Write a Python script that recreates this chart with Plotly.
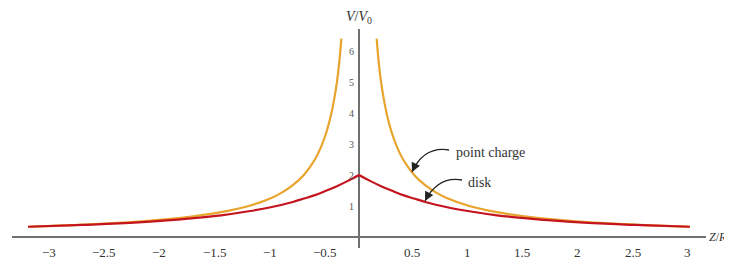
import plotly.graph_objects as go

# ---- data (right half; the curves are mirror-symmetric about Z=0) ----
z_point = [0.16, 0.18, 0.20, 0.22, 0.25, 0.30, 0.35, 0.40, 0.50, 0.60, 0.70, 0.80, 1.00, 1.25, 1.50, 2.00, 2.50, 3.00]
v_point = [6.40, 5.60, 5.00, 4.55, 4.00, 3.33, 2.86, 2.50, 2.00, 1.67, 1.43, 1.25, 1.00, 0.80, 0.67, 0.50, 0.40, 0.33]

z_disk = [0.00, 0.10, 0.20, 0.30, 0.40, 0.50, 0.60, 0.80, 1.00, 1.25, 1.50, 2.00, 2.50, 3.00]
v_disk = [2.00, 1.81, 1.64, 1.49, 1.35, 1.24, 1.13, 0.96, 0.83, 0.70, 0.61, 0.47, 0.39, 0.33]

x_tick_vals = [-3, -2.5, -2, -1.5, -1, -0.5, 0.5, 1, 1.5, 2, 2.5, 3]
x_tick_text = ["−3", "−2.5", "−2", "−1.5", "−1", "−0.5", "0.5", "1", "1.5", "2", "2.5", "3"]
y_tick_vals = [1, 2, 3, 4, 5, 6]
y_tick_text = ["1", "2", "3", "4", "5", "6"]

ORANGE = "#E8A42C"
RED = "#C4141E"
AXIS = "#707070"
FONT = "Liberation Serif"

# ---- layout geometry (window pixels); the page body adds an 8 px offset ----
OFF = 8
WIN_W, WIN_H = 732, 263
W, H = WIN_W - OFF, WIN_H - OFF
# plot area in window pixels
PL, PR, PT, PB = 12, 706, 29, 248
L, T = PL - OFF, PT - OFF
R, B = WIN_W - PR, WIN_H - PB
x_range = [-3.146, 3.146]
y_range = [-0.355, 6.71]
pw, ph = PR - PL, PB - PT


def px2x(px):
    return x_range[0] + (px - PL) / pw * (x_range[1] - x_range[0])


def py2y(py):
    return y_range[1] - (py - PT) / ph * (y_range[1] - y_range[0])


fig = go.Figure()

line_w = 2.2
# point charge, right and left branches
fig.add_trace(go.Scatter(x=z_point, y=v_point, mode="lines", line=dict(color=ORANGE, width=line_w, shape="spline"),
                         hoverinfo="skip", showlegend=False))
fig.add_trace(go.Scatter(x=[-z for z in z_point], y=v_point, mode="lines",
                         line=dict(color=ORANGE, width=line_w, shape="spline"), hoverinfo="skip", showlegend=False))
# disk, right and left branches
fig.add_trace(go.Scatter(x=z_disk, y=v_disk, mode="lines", line=dict(color=RED, width=line_w, shape="spline"),
                         hoverinfo="skip", showlegend=False))
fig.add_trace(go.Scatter(x=[-z for z in z_disk], y=v_disk, mode="lines",
                         line=dict(color=RED, width=line_w, shape="spline"), hoverinfo="skip", showlegend=False))

annotations = []
# x tick labels
for v, t in zip(x_tick_vals, x_tick_text):
    annotations.append(dict(x=v, y=0, xref="x", yref="y", text=t, showarrow=False,
                            xshift=21 if v < 0 else -2, yshift=-15,
                            font=dict(family=FONT, size=13, color="#333333")))
# y tick labels
for v, t in zip(y_tick_vals, y_tick_text):
    annotations.append(dict(x=0, y=v, xref="x", yref="y", text=t, showarrow=False,
                            xshift=-8, yshift=0, font=dict(family=FONT, size=10, color="#555555")))

# axis titles
annotations.append(dict(x=0, y=1, xref="x", yref="paper", yanchor="bottom", yshift=1,
                        text="<i>V</i>/<i>V</i><sub>0</sub>", showarrow=False,
                        font=dict(family=FONT, size=14, color="#333333")))
annotations.append(dict(x=1.0, y=0, xref="paper", yref="y", xanchor="left", yanchor="middle",
                        xshift=1, text="<i>Z</i>/<i>R</i>", showarrow=False,
                        font=dict(family=FONT, size=12, color="#333333")))

# curve labels
annotations.append(dict(x=px2x(454), y=py2y(152), xref="x", yref="y", xanchor="left", text="point charge",
                        showarrow=False, font=dict(family=FONT, size=14, color="#333333")))
annotations.append(dict(x=px2x(466), y=py2y(182), xref="x", yref="y", xanchor="left", text="disk",
                        showarrow=False, font=dict(family=FONT, size=14, color="#333333")))

shapes = []
# curved arrows: (start, control, end) in window pixels
arrows = [((449, 150), (424, 146), (412, 172)),
          ((462, 180), (438, 176), (425, 201))]
for (sx, sy), (cx, cy), (ex, ey) in arrows:
    shapes.append(dict(type="path", xref="x", yref="y",
                       path=f"M {px2x(sx)},{py2y(sy)} Q {px2x(cx)},{py2y(cy)} {px2x(ex)},{py2y(ey)}",
                       line=dict(color="#222222", width=1.3)))
    k = 0.35
    annotations.append(dict(x=px2x(ex), y=py2y(ey), xref="x", yref="y", text="", showarrow=True,
                            ax=(cx - ex) * k, ay=(cy - ey) * k, arrowhead=2, arrowsize=1.4,
                            arrowwidth=1.3, arrowcolor="#222222"))

fig.update_layout(
    width=W, height=H,
    margin=dict(l=L, r=R, t=T, b=B),
    paper_bgcolor="white", plot_bgcolor="white",
    xaxis=dict(range=x_range, showgrid=False, showticklabels=False, ticks="",
               zeroline=True, zerolinecolor=AXIS, zerolinewidth=1.5, showline=False),
    yaxis=dict(range=y_range, showgrid=False, showticklabels=False, ticks="",
               zeroline=True, zerolinecolor=AXIS, zerolinewidth=1.5, showline=False),
    annotations=annotations,
    shapes=shapes,
)

fig.write_html("out.html")
